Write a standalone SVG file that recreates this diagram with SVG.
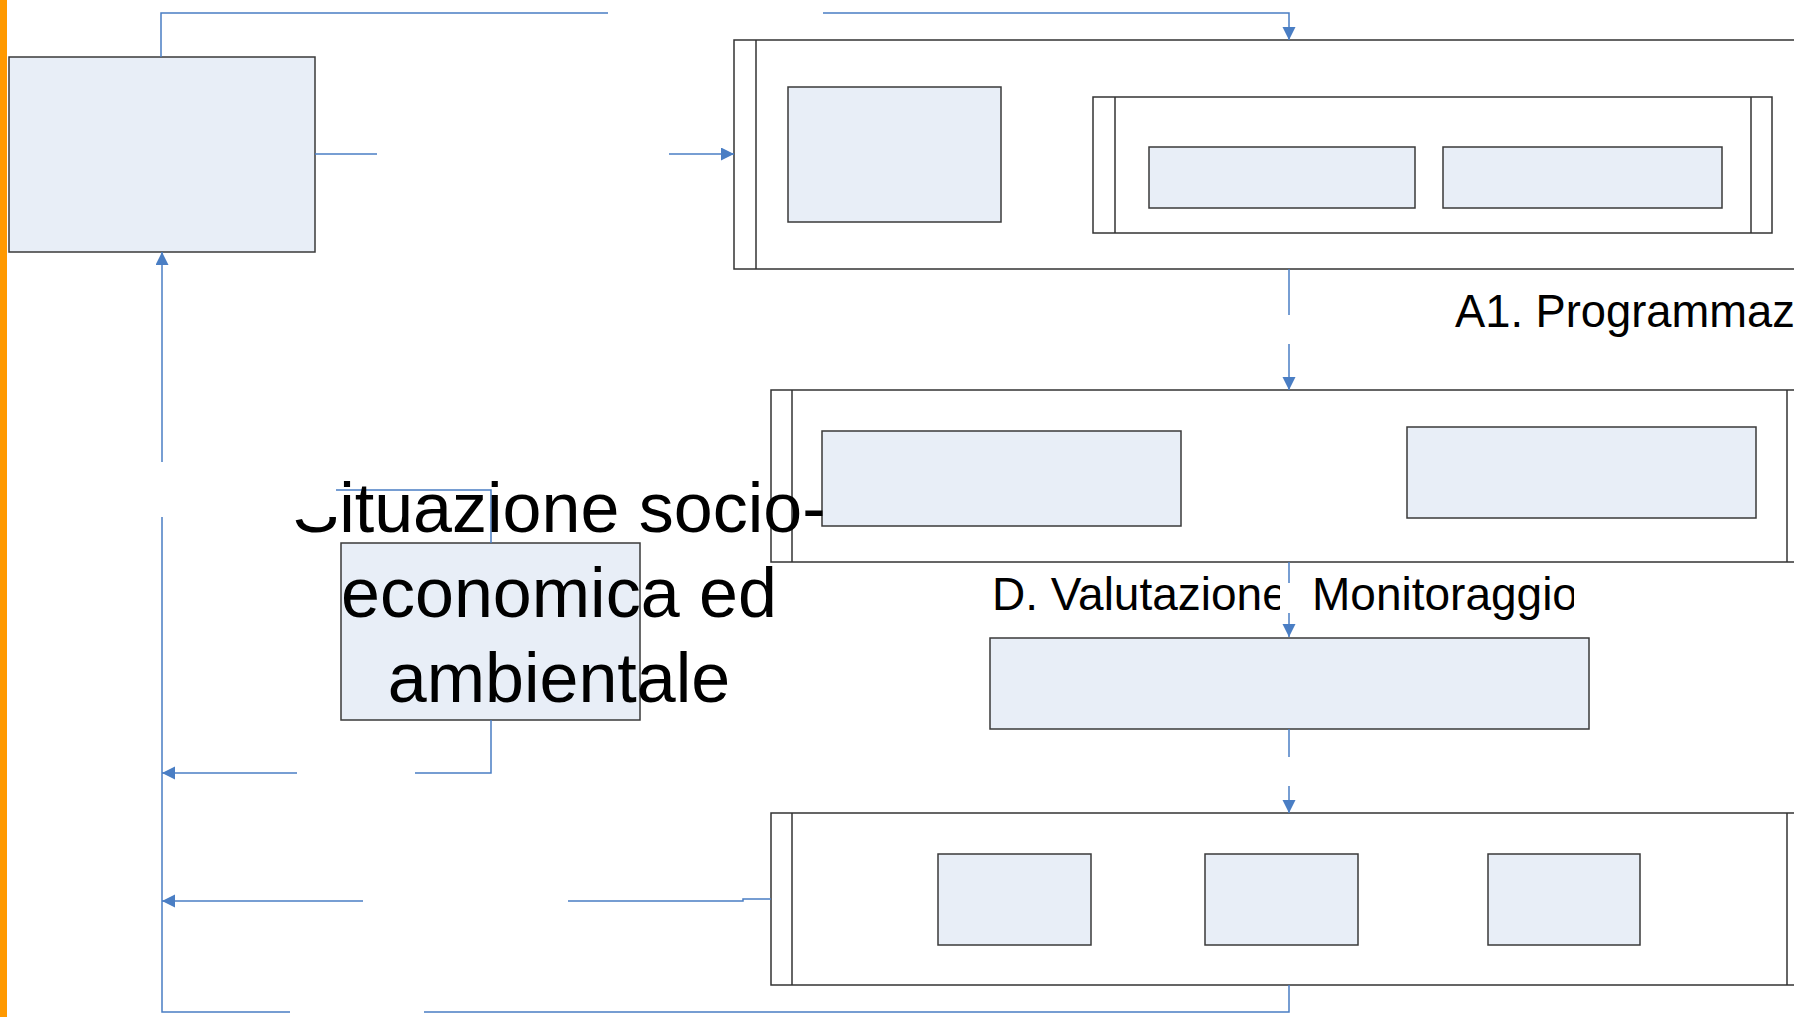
<svg xmlns="http://www.w3.org/2000/svg" width="1794" height="1017" viewBox="0 0 1794 1017">
<style>
.node{fill:#E8EEF7;stroke:#3a3a3a;stroke-width:1.5}
.cont{fill:#FFFFFF;stroke:#333333;stroke-width:1.5}
.stripe{fill:none;stroke:#333333;stroke-width:1.5}
.con{fill:none;stroke:#4A7EC4;stroke-width:1.5}
.txt{font-family:"Liberation Sans",Arial,sans-serif;fill:#000000}
</style>
<defs>
<marker id="arr" markerUnits="userSpaceOnUse" markerWidth="14" markerHeight="14" refX="13" refY="6.5" orient="auto">
<path d="M0,0 L13,6.5 L0,13 Z" fill="#4A7EC4"/>
</marker>
<clipPath id="clipS">
<rect x="0" y="517" width="1794" height="500"/>
<rect x="336" y="0" width="1458" height="1017"/>
</clipPath>
<clipPath id="clipD"><rect x="0" y="0" width="1280" height="1017"/></clipPath>
<clipPath id="clipM"><rect x="0" y="0" width="1574" height="1017"/></clipPath>
</defs>
<rect x="0" y="0" width="1794" height="1017" fill="#FFFFFF"/>
<rect id="bar" x="0" y="0" width="7" height="1017" fill="#FF9900"/>

<g id="container1">
<rect class="cont" x="734" y="40" width="1080" height="229"/>
<line class="stripe" x1="756" y1="40" x2="756" y2="269"/>
</g>
<g id="box-a1-left"><rect class="node" x="788" y="87" width="213" height="135"/></g>
<g id="container1-inner">
<rect class="cont" x="1093" y="97" width="679" height="136"/>
<line class="stripe" x1="1115" y1="97" x2="1115" y2="233"/>
<line class="stripe" x1="1751" y1="97" x2="1751" y2="233"/>
</g>
<g id="box-a1-in1"><rect class="node" x="1149" y="147" width="266" height="61"/></g>
<g id="box-a1-in2"><rect class="node" x="1443" y="147" width="279" height="61"/></g>

<g id="container2">
<rect class="cont" x="771" y="390" width="1043" height="172"/>
<line class="stripe" x1="792" y1="390" x2="792" y2="562"/>
<line class="stripe" x1="1787" y1="390" x2="1787" y2="562"/>
</g>
<g id="box-c2-a"><rect class="node" x="822" y="431" width="359" height="95"/></g>
<g id="box-c2-b"><rect class="node" x="1407" y="427" width="349" height="91"/></g>

<g id="box-d"><rect class="node" x="990" y="638" width="599" height="91"/></g>

<g id="container3">
<rect class="cont" x="771" y="813" width="1043" height="172"/>
<line class="stripe" x1="792" y1="813" x2="792" y2="985"/>
<line class="stripe" x1="1787" y1="813" x2="1787" y2="985"/>
</g>
<g id="box-c3-a"><rect class="node" x="938" y="854" width="153" height="91"/></g>
<g id="box-c3-b"><rect class="node" x="1205" y="854" width="153" height="91"/></g>
<g id="box-c3-c"><rect class="node" x="1488" y="854" width="152" height="91"/></g>

<g id="box1"><rect class="node" x="9" y="57" width="306" height="195"/></g>
<g id="box-situazione"><rect class="node" x="341" y="543" width="299" height="177"/></g>

<g id="connectors">
<path class="con" d="M161,57 V13 H608"/>
<path class="con" d="M823,13 H1289 V40" marker-end="url(#arr)"/>
<path class="con" d="M315,154 H377"/>
<path class="con" d="M669,154 H734" marker-end="url(#arr)"/>
<path class="con" d="M1289,269 V315"/>
<path class="con" d="M1289,344 V390" marker-end="url(#arr)"/>
<path class="con" d="M1289,562 V583"/>
<path class="con" d="M1289,613 V637" marker-end="url(#arr)"/>
<path class="con" d="M1289,729 V757"/>
<path class="con" d="M1289,786 V813" marker-end="url(#arr)"/>
<path class="con" d="M1289,985 V1012 H424"/>
<path class="con" d="M290,1012 H162 V517"/>
<path class="con" d="M162,462 V252" marker-end="url(#arr)"/>
<path class="con" d="M491,543 V490 H336"/>
<path class="con" d="M491,720 V773 H415"/>
<path class="con" d="M297,773 H162" marker-end="url(#arr)"/>
<path class="con" d="M771,899 H743 V901 H568"/>
<path class="con" d="M363,901 H162" marker-end="url(#arr)"/>
</g>

<g id="labels">
<text class="txt" x="1455" y="327" font-size="45.3">A1. Programmaz</text>
<text class="txt" x="992" y="610" font-size="46" clip-path="url(#clipD)">D. Valutazione</text>
<text class="txt" x="1312" y="610" font-size="46" clip-path="url(#clipM)">Monitoraggio</text>
<g clip-path="url(#clipS)">
<text class="txt" x="559" y="532" font-size="70" text-anchor="middle">Situazione socio-</text>
</g>
<text class="txt" x="559" y="617" font-size="70" text-anchor="middle">economica ed</text>
<text class="txt" x="559" y="702" font-size="70" text-anchor="middle">ambientale</text>
</g>
</svg>
